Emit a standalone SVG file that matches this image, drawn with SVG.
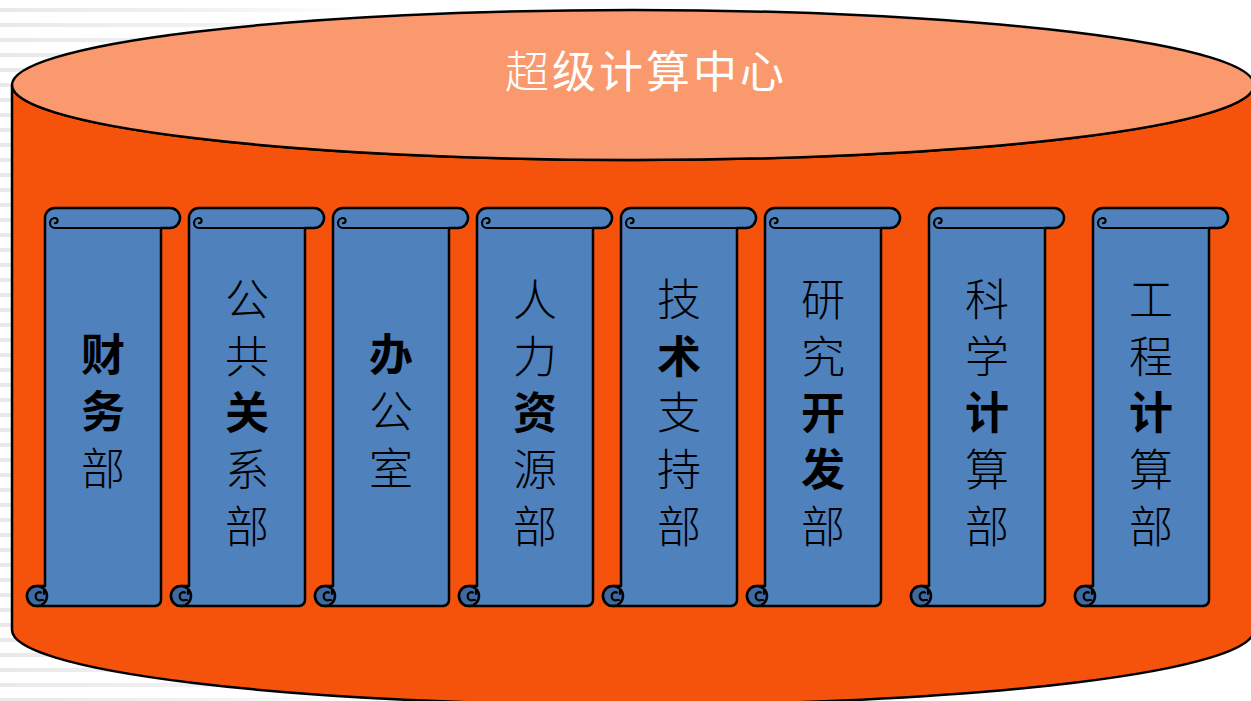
<svg xmlns="http://www.w3.org/2000/svg" xmlns:xlink="http://www.w3.org/1999/xlink" width="1251" height="701" viewBox="0 0 1251 701">
<style>
  .cyl { stroke: #000; stroke-width: 2.5; }
  .scroll { fill: #4f81bd; stroke: #000; stroke-width: 2.5; stroke-linejoin: round; }
  .curl { fill: none; stroke: #000; stroke-width: 2.2; stroke-linecap: round; }
  .curldark { fill: #3e6aa0; stroke: #000; stroke-width: 2.5; }
  .lbl { font-family: "Noto Sans CJK SC", "Noto Sans", sans-serif; font-size: 44px; fill: #000; text-anchor: middle; font-weight: 300; }
  .lbl .b { font-weight: 700; }
  .title { font-family: "Noto Sans CJK SC", "Noto Sans", sans-serif; font-size: 44px; fill: #fff; text-anchor: middle; letter-spacing: 3px; }
</style>
<defs>
  <pattern id="stripes" width="20" height="15" patternUnits="userSpaceOnUse">
    <rect x="0" y="8" width="20" height="4" fill="#e9e9e9"/>
  </pattern>
  <linearGradient id="fade" x1="0" y1="0" x2="1" y2="0">
    <stop offset="0" stop-color="#fff"/>
    <stop offset="0.6" stop-color="#fff" stop-opacity="0.6"/>
    <stop offset="1" stop-color="#fff" stop-opacity="0"/>
  </linearGradient>
  <mask id="fadeMask">
    <rect x="0" y="0" width="360" height="701" fill="url(#fade)"/>
  </mask>
  <g id="scroll">
    <path class="scroll" d="M0,218 A10,10 0 0 1 10,208 L125,208 A10,10 0 0 1 125,228 L116,228 L116,600 A6,6 0 0 1 110,606 L-8,606 A10,10 0 0 1 -8,586 L0,586 Z"/>
    <path class="curl" d="M10,228 L116,228"/>
    <path class="curl" d="M10,228 A5,5 0 0 1 10,218 A2.6,2.6 0 0 1 10,223.2"/>
    <circle class="curldark" cx="-8" cy="596" r="10"/>
    <path class="curl" d="M-8,606 L0,606"/>
    <path class="curl" d="M-4,592.5 A4,4 0 1 0 -4,600 L-2,600"/>
    <path class="curl" d="M-1,590 L-1,594"/>
  </g>
</defs>

<rect x="0" y="0" width="1251" height="701" fill="#fff"/>
<rect x="0" y="0" width="360" height="701" fill="url(#stripes)" mask="url(#fadeMask)"/>

<g id="cylinder">
  <path class="cyl" fill="#f5520c" d="M12,85 L12,630 A621,75 0 0 0 1254,630 L1254,85 A621,75 0 0 1 12,85 Z"/>
  <ellipse class="cyl" fill="#f9996d" cx="633" cy="85" rx="621" ry="75"/>
  <text class="title" x="646" y="88"><tspan font-weight="300">超</tspan>级计算中心</text>
</g>

<g id="connectors"></g>

<g id="node-caiwu" transform="translate(45,0)">
  <use xlink:href="#scroll" href="#scroll"/>
  <text class="lbl"><tspan class="b" x="58" y="371">财</tspan><tspan class="b" x="58" y="428">务</tspan><tspan x="58" y="485">部</tspan></text>
</g>
<g id="node-gonggong" transform="translate(189,0)">
  <use xlink:href="#scroll" href="#scroll"/>
  <text class="lbl"><tspan x="58" y="316">公</tspan><tspan x="58" y="373">共</tspan><tspan class="b" x="58" y="429">关</tspan><tspan x="58" y="486">系</tspan><tspan x="58" y="543">部</tspan></text>
</g>
<g id="node-bangong" transform="translate(333,0)">
  <use xlink:href="#scroll" href="#scroll"/>
  <text class="lbl"><tspan class="b" x="58" y="371">办</tspan><tspan x="58" y="428">公</tspan><tspan x="58" y="485">室</tspan></text>
</g>
<g id="node-renli" transform="translate(477,0)">
  <use xlink:href="#scroll" href="#scroll"/>
  <text class="lbl"><tspan x="58" y="316">人</tspan><tspan x="58" y="373">力</tspan><tspan class="b" x="58" y="429">资</tspan><tspan x="58" y="486">源</tspan><tspan x="58" y="543">部</tspan></text>
</g>
<g id="node-jishu" transform="translate(621,0)">
  <use xlink:href="#scroll" href="#scroll"/>
  <text class="lbl"><tspan x="58" y="316">技</tspan><tspan class="b" x="58" y="373">术</tspan><tspan x="58" y="429">支</tspan><tspan x="58" y="486">持</tspan><tspan x="58" y="543">部</tspan></text>
</g>
<g id="node-yanjiu" transform="translate(765,0)">
  <use xlink:href="#scroll" href="#scroll"/>
  <text class="lbl"><tspan x="58" y="316">研</tspan><tspan x="58" y="373">究</tspan><tspan class="b" x="58" y="429">开</tspan><tspan class="b" x="58" y="486">发</tspan><tspan x="58" y="543">部</tspan></text>
</g>
<g id="node-kexue" transform="translate(929,0)">
  <use xlink:href="#scroll" href="#scroll"/>
  <text class="lbl"><tspan x="58" y="316">科</tspan><tspan x="58" y="373">学</tspan><tspan class="b" x="58" y="429">计</tspan><tspan x="58" y="486">算</tspan><tspan x="58" y="543">部</tspan></text>
</g>
<g id="node-gongcheng" transform="translate(1093,0)">
  <use xlink:href="#scroll" href="#scroll"/>
  <text class="lbl"><tspan x="58" y="316">工</tspan><tspan x="58" y="373">程</tspan><tspan class="b" x="58" y="429">计</tspan><tspan x="58" y="486">算</tspan><tspan x="58" y="543">部</tspan></text>
</g>
</svg>
